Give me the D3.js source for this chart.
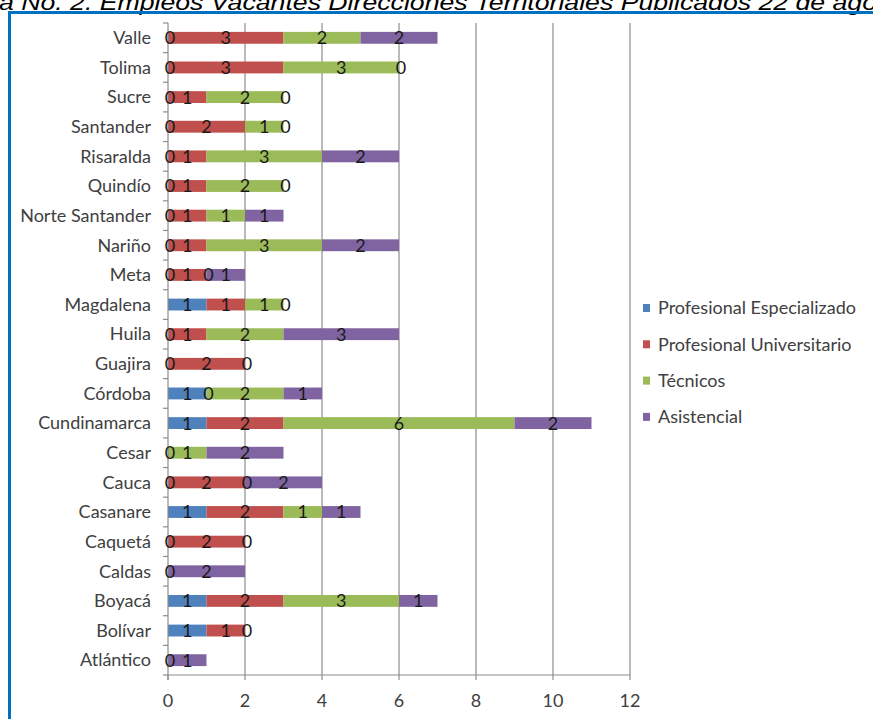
<!DOCTYPE html>
<html>
<head>
<meta charset="utf-8">
<script src="https://cdn.jsdelivr.net/npm/d3@7"></script>
<style>
  body { margin: 0; background: #fff; }
  svg { display: block; }
</style>
</head>
<body>
<div id="chart"></div>
<script>
// departments, top to bottom as in the chart
const departments = ['Valle', 'Tolima', 'Sucre', 'Santander', 'Risaralda', 'Quindío',
  'Norte Santander', 'Nariño', 'Meta', 'Magdalena', 'Huila', 'Guajira', 'Córdoba',
  'Cundinamarca', 'Cesar', 'Cauca', 'Casanare', 'Caquetá', 'Caldas', 'Boyacá',
  'Bolívar', 'Atlántico'];

const seriesNames = ['Profesional Especializado', 'Profesional Universitario', 'Técnicos', 'Asistencial'];

// null = no value (no label drawn)
const especializado = [0, 0, 0, 0, 0, 0, 0, 0, 0, 1, 0, 0, 1, 1, 0, 0, 1, 0, 0, 1, 1, 0];
const universitario = [3, 3, 1, 2, 1, 1, 1, 1, 1, 1, 1, 2, 0, 2, null, 2, 2, 2, null, 2, 1, null];
const tecnicos      = [2, 3, 2, 1, 3, 2, 1, 3, 0, 1, 2, 0, 2, 6, 1, 0, 1, 0, null, 3, 0, null];
const asistencial   = [2, 0, 0, 0, 2, 0, 1, 2, 1, 0, 3, null, 1, 2, 2, 2, 1, null, 2, 1, null, 1];

const xTicks = [0, 2, 4, 6, 8, 10, 12];
const titleText = 'a No. 2. Empleos Vacantes Direcciones Territoriales Publicados 22 de ago';

const colors = ['#4F81BD', '#C0504D', '#9BBB59', '#8064A2'];

const width = 873, height = 719;
const margin = {top: 23, left: 168, right: 243, bottom: 44};

const svg = d3.select('#chart').append('svg')
    .attr('width', width)
    .attr('height', height);

// title, clipped at top of the page as in the source picture
svg.append('text')
    .attr('x', -1)
    .attr('y', 10)
    .attr('font-family', 'Liberation Sans, Arial, sans-serif')
    .attr('font-style', 'italic')
    .attr('font-size', 22)
    .attr('textLength', 878)
    .attr('lengthAdjust', 'spacingAndGlyphs')
    .attr('fill', '#000')
    .text(titleText);

// blue frame
svg.append('line')
    .attr('x1', 8).attr('x2', width).attr('y1', 12.5).attr('y2', 12.5)
    .attr('stroke', '#0070C0').attr('stroke-width', 3);
svg.append('line')
    .attr('x1', 9.5).attr('x2', 9.5).attr('y1', 11).attr('y2', height)
    .attr('stroke', '#0070C0').attr('stroke-width', 3);

const x = d3.scaleLinear()
    .domain([0, 12])
    .range([margin.left, width - margin.right]);

const y = d3.scaleBand()
    .domain(departments)
    .range([margin.top, height - margin.bottom])
    .paddingInner(0.6)
    .paddingOuter(0.3);

const fontFam = 'Lato, "Open Sans", sans-serif';
const fs = 18;

// gridlines
svg.append('g')
    .selectAll('line')
    .data(xTicks.slice(1))
    .join('line')
    .attr('x1', d => x(d)).attr('x2', d => x(d))
    .attr('y1', margin.top).attr('y2', height - margin.bottom)
    .attr('stroke', '#8c8c8c').attr('stroke-width', 1.2);

// stacked data
const rows = departments.map((d, i) => ({
  name: d,
  vals: [especializado[i], universitario[i], tecnicos[i], asistencial[i]]
}));

const segments = [];
rows.forEach(r => {
  let acc = 0;
  r.vals.forEach((v, k) => {
    if (v === null) return;
    segments.push({name: r.name, k: k, v: v, x0: acc, x1: acc + v});
    acc += v;
  });
});

svg.append('g')
    .selectAll('rect')
    .data(segments.filter(s => s.v > 0))
    .join('rect')
    .attr('x', d => x(d.x0))
    .attr('y', d => y(d.name))
    .attr('width', d => x(d.x1) - x(d.x0))
    .attr('height', y.bandwidth())
    .attr('fill', d => colors[d.k]);

// axes
const axisColor = '#8c8c8c';
const yAxis = svg.append('g');
yAxis.append('line')
    .attr('x1', margin.left).attr('x2', margin.left)
    .attr('y1', margin.top).attr('y2', height - margin.bottom + 5)
    .attr('stroke', axisColor).attr('stroke-width', 1.2);
const edges = d3.range(departments.length + 1).map(i => margin.top + i * ((height - margin.bottom - margin.top) / departments.length));
yAxis.selectAll('.ytick')
    .data(edges)
    .join('line')
    .attr('class', 'ytick')
    .attr('x1', margin.left - 5).attr('x2', margin.left)
    .attr('y1', d => d).attr('y2', d => d)
    .attr('stroke', axisColor).attr('stroke-width', 1.2);

yAxis.selectAll('.ylabel')
    .data(departments)
    .join('text')
    .attr('class', 'ylabel')
    .attr('x', margin.left - 17)
    .attr('y', d => y(d) + y.bandwidth() / 2)
    .attr('dy', '0.35em')
    .attr('text-anchor', 'end')
    .attr('font-family', fontFam)
    .attr('font-size', fs)
    .attr('fill', '#404040')
    .text(d => d);

const xAxis = svg.append('g');
xAxis.append('line')
    .attr('x1', margin.left).attr('x2', x(12))
    .attr('y1', height - margin.bottom).attr('y2', height - margin.bottom)
    .attr('stroke', axisColor).attr('stroke-width', 1.2);
xAxis.selectAll('.xtick')
    .data(xTicks)
    .join('line')
    .attr('class', 'xtick')
    .attr('x1', d => x(d)).attr('x2', d => x(d))
    .attr('y1', height - margin.bottom).attr('y2', height - margin.bottom + 5)
    .attr('stroke', axisColor).attr('stroke-width', 1.2);
xAxis.selectAll('.xlabel')
    .data(xTicks)
    .join('text')
    .attr('class', 'xlabel')
    .attr('x', d => x(d))
    .attr('y', height - margin.bottom + 32)
    .attr('text-anchor', 'middle')
    .attr('font-family', fontFam)
    .attr('font-size', fs)
    .attr('fill', '#404040')
    .text(d => d);

// data labels
svg.append('g')
    .selectAll('text')
    .data(segments)
    .join('text')
    .attr('x', d => x((d.x0 + d.x1) / 2) + (d.v === 0 ? 2 : 0))
    .attr('y', d => y(d.name) + y.bandwidth() / 2)
    .attr('dy', '0.36em')
    .attr('text-anchor', 'middle')
    .attr('font-family', fontFam)
    .attr('font-size', fs)
    .attr('fill', '#1a1a1a')
    .text(d => d.v);

// legend
const legend = svg.append('g')
    .attr('transform', 'translate(643,308)');
legend.selectAll('g')
    .data(seriesNames)
    .join('g')
    .attr('transform', (d, i) => `translate(0,${i * 36.3})`)
    .call(g => {
      g.append('rect')
          .attr('x', 0).attr('y', -4)
          .attr('width', 7).attr('height', 8)
          .attr('fill', (d, i) => colors[i]);
      g.append('text')
          .attr('x', 15)
          .attr('dy', '0.35em')
          .attr('font-family', fontFam)
          .attr('font-size', fs)
          .attr('fill', '#404040')
          .text(d => d);
    });
</script>
</body>
</html>
